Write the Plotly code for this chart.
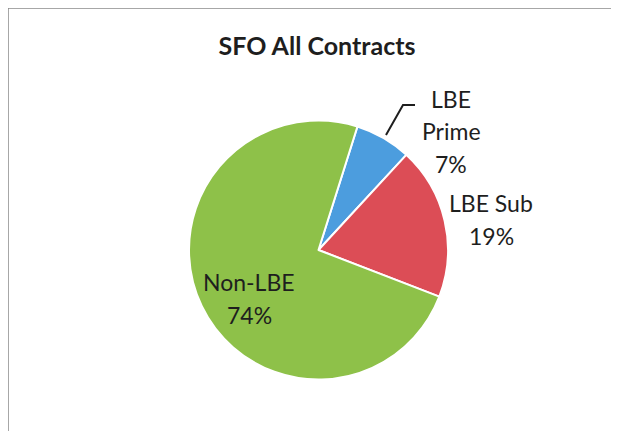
import plotly.graph_objects as go

# data
labels = ["LBE Prime", "LBE Sub", "Non-LBE"]
shares = [7, 19, 74]
label_lines = [["LBE", "Prime"], ["LBE Sub"], ["Non-LBE"]]
colors = ["#4C9DDE", "#DC4D56", "#8EC149"]

W, H = 619, 431
BODY = 8  # browser default body margin shifts the figure by this much
L, R, T, B = 189 - BODY, 171 + BODY, 120 - BODY, 51 + BODY
PW, PH = W - L - R, H - T - B
FONT = "Lato"
TEXT_COLOR = "#1e1e1e"


def px(x, y):
    """screen pixel position -> paper coords of the plot area"""
    return (x - BODY - L) / PW, 1 - (y - BODY - T) / PH


fig = go.Figure(
    go.Pie(
        labels=labels,
        values=shares,
        sort=False,
        direction="clockwise",
        rotation=17.5,
        marker=dict(colors=colors, line=dict(color="white", width=2)),
        textinfo="none",
        hoverinfo="label+percent",
        showlegend=False,
    )
)

# label anchors (centre x, first line y) in pixels, one per slice
label_anchor = [(451, 99), (491, 203), (249, 282)]
line_gap = 32.5
for lines, share, (ax, ay) in zip(label_lines, shares, label_anchor):
    for i, txt in enumerate(lines + [f"{share}%"]):
        x, y = px(ax, ay + i * line_gap)
        fig.add_annotation(
            x=x, y=y, xref="paper", yref="paper", text=txt, showarrow=False,
            xanchor="center", yanchor="middle",
            font=dict(family=FONT, size=23, color=TEXT_COLOR),
        )

# leader line for the small slice
p0, p1, p2 = px(386, 135), px(403, 105), px(415, 105)
fig.add_shape(
    type="path", xref="paper", yref="paper",
    path=f"M {p0[0]} {p0[1]} L {p1[0]} {p1[1]} L {p2[0]} {p2[1]}",
    line=dict(color="#1e1e1e", width=2),
)

# chart frame (the scan cuts it off on the right and bottom)
f0, f1 = px(8, 8), px(640, 450)
fig.add_shape(
    type="rect", xref="paper", yref="paper",
    x0=f0[0], y0=f1[1], x1=f1[0], y1=f0[1],
    line=dict(color="#8a8a8a", width=1.5),
)

fig.update_layout(
    width=W,
    height=H,
    margin=dict(l=L, r=R, t=T, b=B),
    paper_bgcolor="white",
    plot_bgcolor="white",
    title=dict(
        text="<b>SFO All Contracts</b>",
        xref="container", yref="container",
        x=(317 - BODY) / W, y=1 - (46 - BODY) / H,
        xanchor="center", yanchor="middle",
        font=dict(family=FONT, size=25, color=TEXT_COLOR),
    ),
)

fig.write_html("out.html")
